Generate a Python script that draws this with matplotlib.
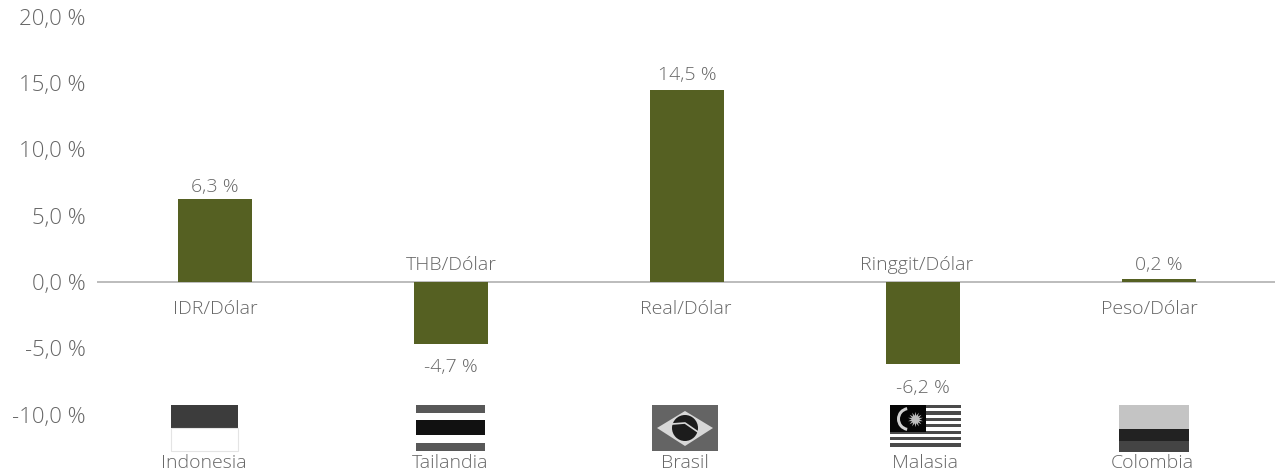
import numpy as np
import matplotlib as mpl
mpl.use('Agg')
import matplotlib.pyplot as plt
from matplotlib.patches import Rectangle, Polygon, Circle, Wedge

pairs = ["IDR/Dólar", "THB/Dólar", "Real/Dólar", "Ringgit/Dólar", "Peso/Dólar"]
countries = ["Indonesia", "Tailandia", "Brasil", "Malasia", "Colombia"]
values = [6.3, -4.7, 14.5, -6.2, 0.2]
yticks = [20, 15, 10, 5, 0, -5, -10]

BAR = "#556022"
TXT = "#666666"
W, H = 1275, 473


def label(v):
	return ("%.1f %%" % v).replace(".", ",")


def box(ov, x0, y0, x1, y1, c):
	ov.add_patch(Rectangle((x0, y0), x1 - x0, y1 - y0, fc=c, ec="none"))


def flag_indonesia(ov):
	box(ov, 171, 405, 238, 428, "#3c3c3c")
	ov.add_patch(Rectangle((171, 428), 67, 23, fc="white", ec="#e4e4e4", lw=0.8))


def flag_thailand(ov):
	box(ov, 416, 405, 485, 413, "#585858")
	box(ov, 416, 420, 485, 435, "#111111")
	box(ov, 416, 443, 485, 451, "#585858")


def flag_brazil(ov):
	box(ov, 652, 405, 718, 451, "#646464")
	ov.add_patch(Polygon([(657, 428), (685, 411), (713, 428), (685, 446)], fc="#d8d8d8", ec="none"))
	ov.add_patch(Circle((685, 428), 13, fc="#1c1c1c", ec="none"))
	ov.plot([672, 685, 698], [424, 423, 432], color="#d8d8d8", lw=1.2)


def flag_malaysia(ov):
	for i in range(14):
		c = "#4a4a4a" if i % 2 == 0 else "white"
		box(ov, 890, 405 + i * 3.2, 961, 405 + (i + 1) * 3.2, c)
	box(ov, 890, 405, 926, 432, "#050505")
	ov.add_patch(Wedge((909, 419), 12, 100, 260, width=3, fc="#d0d0d0", ec="none"))
	ov.plot([915], [419], marker=(14, 1), ms=11, color="#bdbdbd", mew=0)


def flag_colombia(ov):
	box(ov, 1119, 405, 1189, 429, "#c4c4c4")
	box(ov, 1119, 429, 1189, 441, "#222222")
	box(ov, 1119, 441, 1189, 452, "#444444")


def main():
	plt.rcParams['font.family'] = ['Open Sans', 'DejaVu Sans']
	plt.rcParams['font.weight'] = 'light'
	fig = plt.figure(figsize=(W / 100, H / 100), dpi=100)

	# main axes covers the whole height, zero line at y=282 px
	ax = fig.add_axes([97 / W, 0, (W - 97) / W, 1])
	x = np.arange(len(values))
	ax.bar(x, values, width=0.314, color=BAR, zorder=3)
	ax.set_xlim(-0.5, -0.5 + (W - 97) / 236)
	ax.set_ylim(-191 / 13.25, 282 / 13.25)

	for s in ax.spines.values():
		s.set_visible(False)
	ax.axhline(0, color="#b0b0b0", lw=1.2, zorder=2)
	ax.set_xticks([])
	ax.set_yticks(yticks)
	ax.set_yticklabels([label(t) for t in yticks], fontsize=16, color=TXT)
	ax.tick_params(axis='y', length=0, pad=8)

	# offsets in points, labels in the original are not quite centred
	value_dy = [2, -10, 4, -11, 4]
	pair_dx = [0, 0, -1, -4.5, -7]
	for i, v in enumerate(values):
		ax.annotate(label(v), (i, v), xytext=(0, value_dy[i]), textcoords="offset points",
			ha="center", va="bottom" if v >= 0 else "top", fontsize=14, color=TXT)
		# pair name sits on the opposite side of the axis
		ax.annotate(pairs[i], (i, 0), xytext=(pair_dx[i], -13 if v >= 0 else 6), textcoords="offset points",
			ha="center", va="top" if v >= 0 else "bottom", fontsize=14, color=TXT)

	# overlay in pixel coordinates for the flags and country names
	ov = fig.add_axes([0, 0, 1, 1], facecolor="none")
	ov.set_xlim(0, W)
	ov.set_ylim(H, 0)
	ov.axis("off")
	flag_indonesia(ov)
	flag_thailand(ov)
	flag_brazil(ov)
	flag_malaysia(ov)
	flag_colombia(ov)
	cx = [204, 450, 685, 925, 1152]
	for c, name in zip(cx, countries):
		ov.text(c, 468, name, ha="center", va="baseline", fontsize=14, color=TXT)

	fig.savefig("out.png", dpi=100)


if __name__ == '__main__':
	main()
